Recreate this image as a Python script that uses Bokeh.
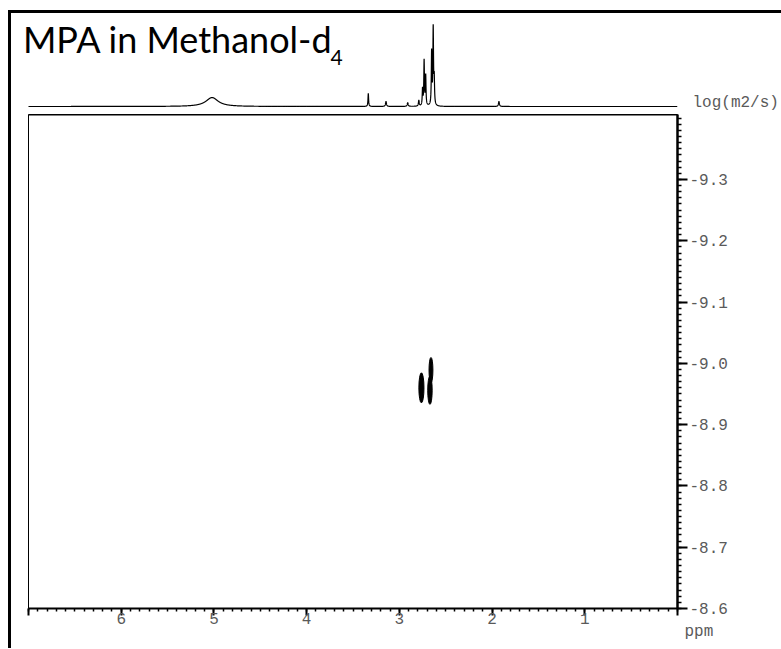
import numpy as np
from bokeh.plotting import figure
from bokeh.models import (Range1d, Label, FixedTicker, Span, Title, PrintfTickFormatter,
                          LinearAxis)
from bokeh.layouts import column
from bokeh.embed import file_html
from bokeh.resources import INLINE

# ---- 1D projection spectrum: peaks (ppm, relative height, half width)
peak_ppm = [5.02, 3.335, 3.144, 2.91, 2.79, 2.750, 2.733, 2.716, 2.652, 2.635, 2.624, 1.926]
peak_height = [0.108, 0.157, 0.06, 0.045, 0.07, 0.20, 0.54, 0.36, 0.64, 0.92, 0.30, 0.06]
peak_hwhm = [0.08, 0.004, 0.006, 0.006, 0.005, 0.004, 0.004, 0.004, 0.004, 0.004, 0.004, 0.006]

# ---- DOSY cross peaks (ppm, log D, extent in ppm, extent in log D)
blob_ppm = [2.762, 2.659, 2.670]
blob_logd = [-8.960, -8.989, -8.956]
blob_w = [0.055, 0.042, 0.048]
blob_h = [0.049, 0.041, 0.046]

# ---- axes
x_ticks = [0, 1, 2, 3, 4, 5, 6, 7]
x_tick_labels = {0: "", 1: "1", 2: "2", 3: "3", 4: "4", 5: "5", 6: "6", 7: ""}
y_ticks = [-9.3, -9.2, -9.1, -9.0, -8.9, -8.8, -8.7, -8.6]

title_text = "MPA in Methanol-d"
title_sub = "4"
y_title = "log(m2/s)"
x_title = "ppm"

TICK_FONT = "Liberation Mono"
TICK_COLOR = "#5a5a5a"

# ---- geometry (pixels)
TOP_W = 770
SHIFT = 8                         # bottom panel is indented so the title can start left of its frame
BOT_W = TOP_W - SHIFT
FRAME_L, FRAME_R = 9, 104
BOT_FRAME_W = BOT_W - FRAME_L - FRAME_R
PPM_MAX, PPM_MIN = 7.0, 0.0
px_per_ppm = BOT_FRAME_W / (PPM_MAX - PPM_MIN)

# spectrum trace from the peak list
ppm_axis = np.linspace(PPM_MAX, PPM_MIN, 14001)
intensity = np.zeros_like(ppm_axis)
for c, h, g in zip(peak_ppm, peak_height, peak_hwhm):
    intensity += h / (1.0 + ((ppm_axis - c) / g) ** 2)

# top panel
TOP_H = 100
BASE_FROM_BOTTOM = 7
PX_PER_UNIT = 83
top_xr = Range1d(PPM_MAX + SHIFT / px_per_ppm, PPM_MIN)
top_yr = Range1d(-BASE_FROM_BOTTOM / PX_PER_UNIT, (TOP_H - BASE_FROM_BOTTOM) / PX_PER_UNIT)

top = figure(width=TOP_W, height=TOP_H, x_range=top_xr, y_range=top_yr,
             x_axis_location=None, y_axis_location=None,
             output_backend="svg", toolbar_location=None,
             min_border_left=FRAME_L, min_border_right=FRAME_R,
             min_border_top=0, min_border_bottom=0)
top.grid.visible = False
top.outline_line_color = None
top.line(ppm_axis, intensity, line_color="black", line_width=1.2)

top.add_layout(Label(x=2.4, y=74.7, x_units="screen", y_units="screen", text=title_text,
                     text_font="Lato", text_font_size="36px", text_baseline="alphabetic",
                     text_color="black"))
top.add_layout(Label(x=310, y=56.4, x_units="screen", y_units="screen", text=title_sub,
                     text_font="Lato", text_font_size="21px", text_baseline="alphabetic",
                     text_color="black"))

# "log(m2/s)" as the single label of an unstyled right axis, level with the spectrum baseline
LOG_LABEL_POS = 0
ra = LinearAxis(ticker=FixedTicker(ticks=[LOG_LABEL_POS]),
                major_label_overrides={LOG_LABEL_POS: y_title},
                axis_line_color=None, major_tick_line_color=None, minor_tick_line_color=None,
                major_tick_out=0, major_tick_in=0, minor_tick_out=0, minor_tick_in=0,
                major_label_standoff=15, major_label_text_font=TICK_FONT,
                major_label_text_font_size="16px", major_label_text_color=TICK_COLOR)
top.add_layout(ra, "right")

# 2D DOSY panel
bot = figure(width=BOT_W, height=535, x_range=Range1d(PPM_MAX, PPM_MIN),
             y_range=Range1d(-8.6, -9.406),
             x_axis_location="below", y_axis_location="right",
             output_backend="svg", toolbar_location=None,
             min_border_left=FRAME_L, min_border_right=FRAME_R, min_border_top=1,
             min_border_bottom=40, margin=(0, 0, 0, SHIFT))
bot.grid.visible = False
bot.outline_line_color = "black"
bot.outline_line_width = 1

bot.ellipse(x=blob_ppm, y=blob_logd, width=blob_w, height=blob_h,
            fill_color="black", line_color="black")

xa = bot.xaxis[0]
xa.ticker = FixedTicker(ticks=x_ticks, minor_ticks=[round(i * 0.1, 1) for i in range(0, 71)])
xa.major_label_overrides = x_tick_labels
xa.axis_line_width = 2
xa.major_tick_out = 7
xa.major_tick_in = 0
xa.minor_tick_out = 3
xa.minor_tick_in = 0
xa.major_tick_line_width = 2
xa.minor_tick_line_width = 1.5
xa.major_label_standoff = -3
xa.major_label_text_font = TICK_FONT
xa.major_label_text_font_size = "16px"
xa.major_label_text_color = TICK_COLOR

ya = bot.yaxis[0]
ya.ticker = FixedTicker(ticks=y_ticks, minor_ticks=[round(-9.40 + i * 0.01, 2) for i in range(0, 81)])
ya.formatter = PrintfTickFormatter(format="%.1f")
ya.axis_line_width = 2.5
ya.major_tick_out = 10
ya.major_tick_in = 0
ya.minor_tick_out = 4
ya.minor_tick_in = 0
ya.major_tick_line_width = 2
ya.minor_tick_line_width = 1.5
ya.major_label_standoff = 2
ya.major_label_text_font = TICK_FONT
ya.major_label_text_font_size = "16px"
ya.major_label_text_color = TICK_COLOR

bot.add_layout(Span(location=-9.406, dimension="width", line_color="black", line_width=2))

ppm_title = Title(text=x_title, align="left", offset=656,
                  text_font=TICK_FONT, text_font_size="16px", text_font_style="normal",
                  text_color=TICK_COLOR)
if "standoff" in ppm_title.properties():
    ppm_title.standoff = -12
bot.add_layout(ppm_title, "below")

layout = column(top, bot, margin=(10, 0, 0, 8),
                styles={"border-left": "3px solid black", "border-top": "3px solid black"})

with open("out.html", "w") as f:
    f.write(file_html(layout, INLINE))
